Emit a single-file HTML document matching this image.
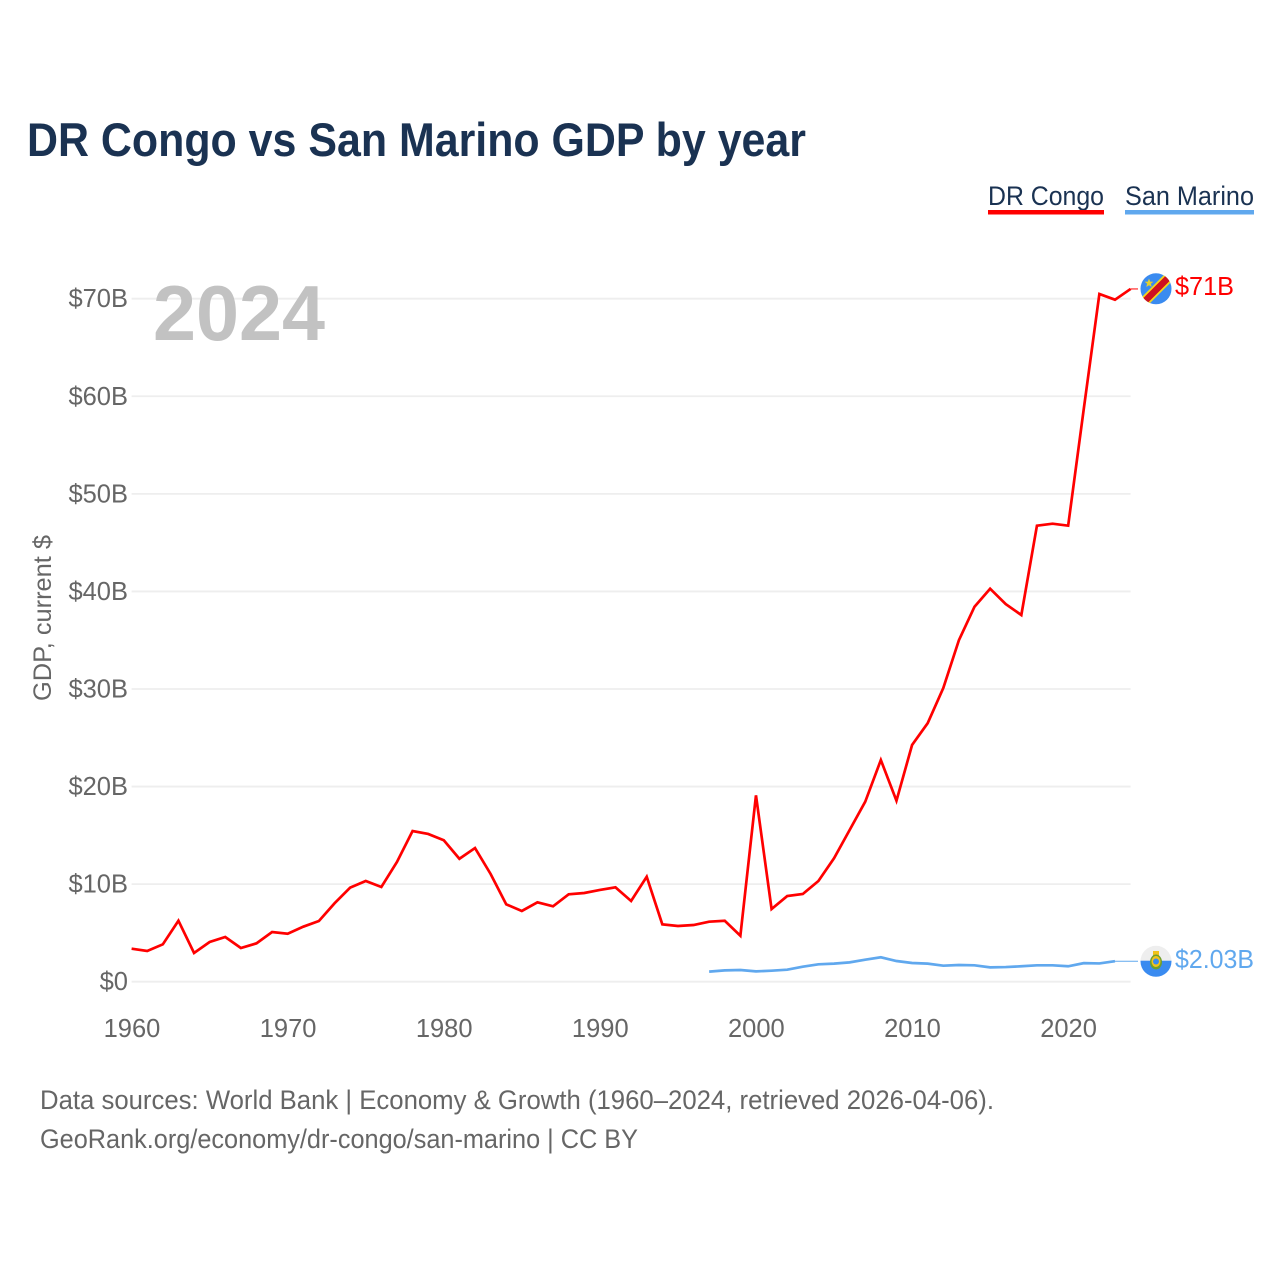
<!DOCTYPE html>
<html lang="en">
<head>
<meta charset="utf-8">
<title>DR Congo vs San Marino GDP by year</title>
<style>
html,body{margin:0;padding:0;background:#fff;}
svg{display:block;font-family:"Liberation Sans",sans-serif;}
</style>
</head>
<body>
<svg id="chart" width="1280" height="1280" viewBox="0 0 1280 1280" xmlns="http://www.w3.org/2000/svg">
  <rect width="1280" height="1280" fill="#ffffff"/>
  <text x="27" y="156" font-size="47" font-weight="700" fill="#1a3252" textLength="779" lengthAdjust="spacingAndGlyphs">DR Congo vs San Marino GDP by year</text>

  <g>
    <text x="988" y="205" font-size="27" fill="#1a3252" textLength="116" lengthAdjust="spacingAndGlyphs">DR Congo</text>
    <rect x="988" y="210" width="116" height="4.5" fill="#ff0000"/>
  </g>
  <g>
    <text x="1125" y="205" font-size="27" fill="#1a3252" textLength="129" lengthAdjust="spacingAndGlyphs">San Marino</text>
    <rect x="1125" y="210" width="129" height="4.5" fill="#60a8ee"/>
  </g>

  <g id="grid"></g>
  <g id="yticks"></g>
  <g id="xticks"></g>

  <text x="153" y="340" font-size="78" font-weight="700" fill="#c2c2c2" textLength="172" lengthAdjust="spacingAndGlyphs">2024</text>
  <text transform="translate(51,618) rotate(-90)" text-anchor="middle" font-size="25" fill="#666666" textLength="166" lengthAdjust="spacingAndGlyphs">GDP, current $</text>

  <g id="series"></g>

  <g>
    <clipPath id="clip-cd"><circle cx="1156" cy="288.8" r="15.5"/></clipPath>
    <g clip-path="url(#clip-cd)">
      <rect x="1140" y="272" width="32" height="34" fill="#3a8bf0"/>
      <line x1="1137" y1="309" x2="1177" y2="269" stroke="#f7d618" stroke-width="10"/>
      <line x1="1137" y1="309" x2="1177" y2="269" stroke="#ce1021" stroke-width="6.5"/>
    </g>
    <polygon points="1149,278.5 1150.2,281.6 1153.4,281.8 1150.9,283.8 1151.7,287 1149,285.2 1146.3,287 1147.1,283.8 1144.6,281.8 1147.8,281.6" fill="#f7d618" opacity="0.9"/>
  </g>
  <g>
    <clipPath id="clip-sm"><circle cx="1156" cy="961.3" r="15.5"/></clipPath>
    <g clip-path="url(#clip-sm)">
      <rect x="1140" y="945" width="32" height="15.7" fill="#eeeeee"/>
      <rect x="1140" y="960.7" width="32" height="17" fill="#3a8bf0"/>
    </g>
    <rect x="1153" y="951" width="6" height="6" fill="#f2c21b"/>
    <ellipse cx="1156" cy="962" rx="6" ry="7.5" fill="#6f9e2e"/>
    <ellipse cx="1156" cy="961.5" rx="4.5" ry="5.5" fill="#f2c21b"/>
    <circle cx="1156" cy="961.5" r="3" fill="#3a8bf0"/>
  </g>

  <text x="1175" y="295" font-size="26" fill="#ff0000" textLength="59" lengthAdjust="spacingAndGlyphs">$71B</text>
  <text x="1175" y="968" font-size="26" fill="#60a8ee" textLength="79" lengthAdjust="spacingAndGlyphs">$2.03B</text>

  <text x="40" y="1109" font-size="27" fill="#666666" textLength="954" lengthAdjust="spacingAndGlyphs">Data sources: World Bank | Economy &amp; Growth (1960–2024, retrieved 2026-04-06).</text>
  <text x="40" y="1148" font-size="27" fill="#666666" textLength="598" lengthAdjust="spacingAndGlyphs">GeoRank.org/economy/dr-congo/san-marino | CC BY</text>
</svg>
<script>
const yTickValues = [0, 10, 20, 30, 40, 50, 60, 70];
const yTickLabels = ["$0", "$10B", "$20B", "$30B", "$40B", "$50B", "$60B", "$70B"];
const xTickYears = [1960, 1970, 1980, 1990, 2000, 2010, 2020];
const drCongoStartYear = 1960;
const drCongoValues = [3.38, 3.15, 3.83, 6.25, 2.94, 4.07, 4.58, 3.45, 3.93, 5.09,
  4.92, 5.64, 6.22, 8.03, 9.64, 10.32, 9.71, 12.27, 15.44, 15.14,
  14.5, 12.6, 13.7, 11.04, 7.93, 7.25, 8.14, 7.73, 8.96, 9.09,
  9.4, 9.67, 8.27, 10.76, 5.88, 5.71, 5.81, 6.15, 6.25, 4.71,
  19.1, 7.45, 8.78, 8.99, 10.32, 12.65, 15.55, 18.45, 22.72, 18.55,
  24.26, 26.5, 30.1, 35.0, 38.43, 40.28, 38.7, 37.58, 46.74, 46.94,
  46.74, 58.7, 70.49, 69.9, 71.0];
const sanMarinoStartYear = 1997;
const sanMarinoValues = [1.03, 1.16, 1.2, 1.06, 1.13, 1.23, 1.54, 1.78, 1.85, 1.98,
  2.26, 2.5, 2.12, 1.92, 1.85, 1.64, 1.71, 1.68, 1.47, 1.5,
  1.58, 1.68, 1.68, 1.58, 1.9, 1.87, 2.1];

const NS = "http://www.w3.org/2000/svg";
const xAxis = year => 131.6 + (year - 1960) * (1130.6 - 131.6) / 64;
const yAxis = value => 981.7 - value * 9.757;
const CONNECTOR_END = 1138;

const gridGroup = document.getElementById("grid");
const yTickGroup = document.getElementById("yticks");
const xTickGroup = document.getElementById("xticks");
const seriesGroup = document.getElementById("series");

yTickValues.forEach((v, i) => {
  const line = document.createElementNS(NS, "line");
  
  
  line.setAttribute("x1", xAxis(1960));
  line.setAttribute("x2", xAxis(2024));
  line.setAttribute("y1", yAxis(v));
  line.setAttribute("y2", yAxis(v));
  line.setAttribute("stroke", "#eeeeee");
  line.setAttribute("stroke-width", "1.8");
  gridGroup.appendChild(line);

  const label = document.createElementNS(NS, "text");
  
  
  label.setAttribute("x", 128);
  label.setAttribute("y", yAxis(v) + 8.5);
  label.setAttribute("text-anchor", "end");
  label.setAttribute("font-size", "25.5");
  label.setAttribute("fill", "#666666");
  label.textContent = yTickLabels[i];
  yTickGroup.appendChild(label);
});

xTickYears.forEach(year => {
  const label = document.createElementNS(NS, "text");
  
  
  label.setAttribute("x", xAxis(year) + 0.4);
  label.setAttribute("y", 1037);
  label.setAttribute("text-anchor", "middle");
  label.setAttribute("font-size", "25.5");
  label.setAttribute("fill", "#666666");
  label.textContent = String(year);
  xTickGroup.appendChild(label);
});

function drawSeries(values, startYear, color, width) {
  const pts = values.map((v, i) => xAxis(startYear + i).toFixed(2) + "," + yAxis(v).toFixed(2)).join(" ");
  const line = document.createElementNS(NS, "polyline");
  
  
  line.setAttribute("points", pts);
  line.setAttribute("fill", "none");
  line.setAttribute("stroke", color);
  line.setAttribute("stroke-width", width);
  line.setAttribute("stroke-linejoin", "miter");
  seriesGroup.appendChild(line);

  const lastIndex = values.length - 1;
  const connector = document.createElementNS(NS, "line");
  
  
  connector.setAttribute("x1", xAxis(startYear + lastIndex));
  connector.setAttribute("x2", CONNECTOR_END);
  connector.setAttribute("y1", yAxis(values[lastIndex]));
  connector.setAttribute("y2", yAxis(values[lastIndex]));
  connector.setAttribute("stroke", color);
  connector.setAttribute("stroke-width", "1");
  seriesGroup.appendChild(connector);
}

drawSeries(sanMarinoValues, sanMarinoStartYear, "#60a8ee", 2.7);
drawSeries(drCongoValues, drCongoStartYear, "#ff0000", 2.7);
</script>
</body>
</html>
